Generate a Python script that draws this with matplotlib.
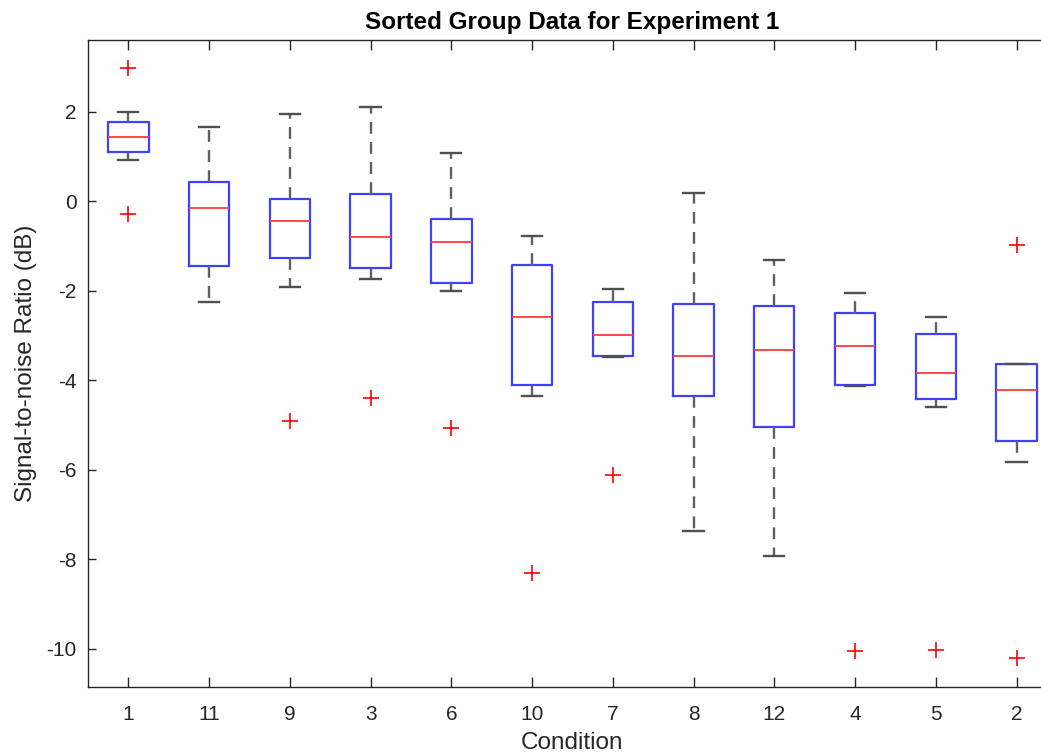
import matplotlib
matplotlib.use("Agg")
import matplotlib.pyplot as plt

# conditions in sorted order, and box statistics
conditions = ["1", "11", "9", "3", "6", "10", "7", "8", "12", "4", "5", "2"]
medians = [1.43, -0.15, -0.44, -0.80, -0.92, -2.60, -2.99, -3.45, -3.32, -3.23, -3.83, -4.22]
q1 = [1.09, -1.45, -1.27, -1.50, -1.84, -4.11, -3.46, -4.35, -5.05, -4.10, -4.42, -5.36]
q3 = [1.76, 0.42, 0.04, 0.16, -0.39, -1.42, -2.26, -2.29, -2.35, -2.51, -2.97, -3.65]
whisk_lo = [0.92, -2.26, -1.92, -1.74, -2.00, -4.35, -3.48, -7.37, -7.93, -4.13, -4.60, -5.83]
whisk_hi = [2.00, 1.65, 1.95, 2.11, 1.08, -0.79, -1.97, 0.17, -1.31, -2.06, -2.59, -3.64]
outliers = [[2.97, -0.29], [], [-4.92], [-4.40], [-5.07], [-8.30], [-6.12], [], [],
            [-10.06], [-10.02], [-0.98, -10.22]]

plt.rcParams['font.family'] = ['Liberation Sans', 'DejaVu Sans']

stats = []
for i in range(len(conditions)):
    stats.append(dict(med=medians[i], q1=q1[i], q3=q3[i],
                      whislo=whisk_lo[i], whishi=whisk_hi[i],
                      fliers=outliers[i], label=conditions[i]))

fig = plt.figure(figsize=(10.41, 7.56), dpi=100)
ax = fig.add_axes([0.0845, 0.0917, 0.9308, 0.8554])

ax.bxp(stats, positions=range(1, len(conditions) + 1), widths=0.5,
       boxprops=dict(color='#4040ff', linewidth=1.6),
       medianprops=dict(color='#ff3a3a', linewidth=1.3),
       whiskerprops=dict(color='#606060', linewidth=1.7, linestyle=(0, (5, 3.5))),
       capprops=dict(color='#505050', linewidth=1.7),
       flierprops=dict(marker='+', markeredgecolor='red', markersize=11,
                       markeredgewidth=1.2, linestyle='none'))

ax.set_xlim(0.5, 12.5)
ax.set_ylim(-10.85, 3.6)
ax.set_yticks([-10, -8, -6, -4, -2, 0, 2])
ax.set_yticklabels(['-10', '-8', '-6', '-4', '-2', '0', '2'])

for s in ax.spines.values():
    s.set_color('#262626')
    s.set_linewidth(1.0)
ax.tick_params(axis='both', direction='in', top=True, right=True,
               colors='#262626', labelsize=15, width=1.0)
ax.tick_params(axis='x', length=7, pad=13)
ax.tick_params(axis='y', length=6, pad=8)

ax.set_title("Sorted Group Data for Experiment 1", fontsize=17.5,
             fontweight='bold', color='black', pad=8)
ax.set_xlabel("Condition", fontsize=17.5, color='#262626', labelpad=6)
ax.set_ylabel("Signal-to-noise Ratio (dB)", fontsize=17.5, color='#262626', labelpad=7)

fig.savefig("out.png", dpi=100)
